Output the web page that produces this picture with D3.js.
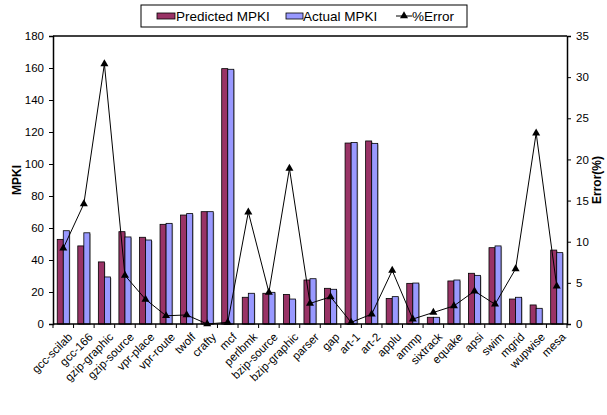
<!DOCTYPE html>
<html><head><meta charset="utf-8">
<script src="https://cdn.jsdelivr.net/npm/d3@7"></script>
<style>body{margin:0;background:#fff;} text{font-family:"Liberation Sans",Arial,sans-serif;}</style>
</head><body><svg id="c" width="607" height="415"></svg>
<script>
const categories = ["gcc-scilab","gcc-166","gzip-graphic","gzip-source","vpr-place","vpr-route","twolf","crafty","mcf","perlbmk","bzip-source","bzip-graphic","parser","gap","art-1","art-2","applu","ammp","sixtrack","equake","apsi","swim","mgrid","wupwise","mesa"];
const predicted = [52.9,48.8,38.8,57.7,54.2,62.3,68.1,70.2,159.6,16.7,19.2,18.5,27.5,22.3,113.1,114.4,16.0,25.4,4.2,26.9,31.7,47.7,15.6,11.9,46.2];
const actual    = [58.3,57.0,29.4,54.4,52.5,62.9,69.0,70.2,159.2,19.2,19.8,15.6,28.3,21.7,113.5,112.9,17.1,25.6,4.2,27.5,30.4,48.8,16.7,9.8,44.6];
const errorPct  = [9.2,14.6,31.6,5.9,3.0,1.0,1.1,0.0,0.2,13.6,3.85,18.9,2.5,3.3,0.2,1.2,6.5,0.6,1.4,2.2,4.0,2.4,6.7,23.2,4.6];
const leftTicks = [0,20,40,60,80,100,120,140,160,180];
const rightTicks = [0,5,10,15,20,25,30,35];

const svg = d3.select("#c");
const L=53, R=567, T=36, B=324;
const x = d3.scaleBand().domain(categories).range([L,R]).paddingInner(0).paddingOuter(0);
const y = d3.scaleLinear().domain([0,180]).range([B,T]);
const y2 = d3.scaleLinear().domain([0,35]).range([B,T]);
const sub = d3.scaleBand().domain(["p","a"]).range([0,x.bandwidth()]).paddingInner(0).paddingOuter(0.7);

const predColor="#993366", actColor="#9999FF";

// frame top
svg.append("line").attr("x1",L).attr("x2",R).attr("y1",T).attr("y2",T).attr("stroke","#000").attr("stroke-width",1.5);

// bars
const g = svg.append("g");
categories.forEach((c,i)=>{
  [["p",predicted[i],predColor],["a",actual[i],actColor]].forEach(([k,v,col])=>{
    g.append("rect").attr("x",x(c)+sub(k)+1).attr("y",y(v)+1).attr("width",sub.bandwidth()).attr("height",B-y(v)).attr("fill","#999").attr("opacity",0.7);
    g.append("rect").attr("x",x(c)+sub(k)).attr("y",y(v)).attr("width",sub.bandwidth()).attr("height",B-y(v))
      .attr("fill",col).attr("stroke","#000").attr("stroke-width",0.8);
  });
});

// axes
const yl = d3.axisLeft(y).tickValues(leftTicks).tickSize(4).tickPadding(5);
const ya = svg.append("g").attr("transform",`translate(${L},0)`).call(yl);
const yr = d3.axisRight(y2).tickValues(rightTicks).tickSize(4).tickPadding(5);
const yb = svg.append("g").attr("transform",`translate(${R},0)`).call(yr);
[ya,yb].forEach(a=>{a.select(".domain").attr("stroke-width",1.5);a.selectAll("text").attr("font-size","11.5px").attr("fill","#000").style("font-family","Liberation Sans, Arial");});

// x axis
svg.append("line").attr("x1",L).attr("x2",R).attr("y1",B).attr("y2",B).attr("stroke","#000").attr("stroke-width",1.5);
const bounds = categories.map(c=>x(c)).concat([R]);
bounds.forEach(b=>svg.append("line").attr("x1",b).attr("x2",b).attr("y1",B).attr("y2",B+4).attr("stroke","#000"));
categories.forEach(c=>{
  const cx = x(c)+x.bandwidth()/2+4;
  svg.append("text").attr("transform",`translate(${cx},${B+8}) rotate(-45)`)
    .attr("text-anchor","end").attr("dy","0.7em").attr("font-size","11.5px").text(c);
});

// error line
const line = d3.line().x((d,i)=>x(categories[i])+x.bandwidth()/2).y(d=>y2(d));
svg.append("path").datum(errorPct).attr("d",line).attr("fill","none").attr("stroke","#000").attr("stroke-width",1);
const tri = d3.symbol().type(d3.symbolTriangle).size(28);
errorPct.forEach((d,i)=>{
  svg.append("path").attr("d",tri()).attr("transform",`translate(${x(categories[i])+x.bandwidth()/2},${y2(d)})`).attr("fill","#000");
});

// axis titles
svg.append("text").attr("transform","translate(21,180) rotate(-90)").attr("text-anchor","middle").attr("font-size","12px").attr("font-weight","bold").text("MPKI");
svg.append("text").attr("transform","translate(601,180) rotate(-90)").attr("text-anchor","middle").attr("font-size","12px").attr("font-weight","bold").text("Error(%)");

// legend
const lg = svg.append("g");
lg.append("rect").attr("x",141).attr("y",5).attr("width",326).attr("height",22).attr("fill","#fff").attr("stroke","#000").attr("stroke-width",1);
lg.append("rect").attr("x",157).attr("y",13).attr("width",18).attr("height",6).attr("fill",predColor).attr("stroke","#000").attr("stroke-width",0.8);
lg.append("text").attr("x",176).attr("y",21).attr("font-size","13.5px").text("Predicted MPKI");
lg.append("rect").attr("x",286).attr("y",13).attr("width",17).attr("height",6).attr("fill",actColor).attr("stroke","#000").attr("stroke-width",0.8);
lg.append("text").attr("x",303).attr("y",21).attr("font-size","13.5px").text("Actual MPKI");
lg.append("line").attr("x1",396).attr("x2",412).attr("y1",16).attr("y2",16).attr("stroke","#000");
lg.append("path").attr("d",tri()).attr("transform","translate(404,16)").attr("fill","#000");
lg.append("text").attr("x",412).attr("y",21).attr("font-size","13.5px").text("%Error");
</script></body></html>
